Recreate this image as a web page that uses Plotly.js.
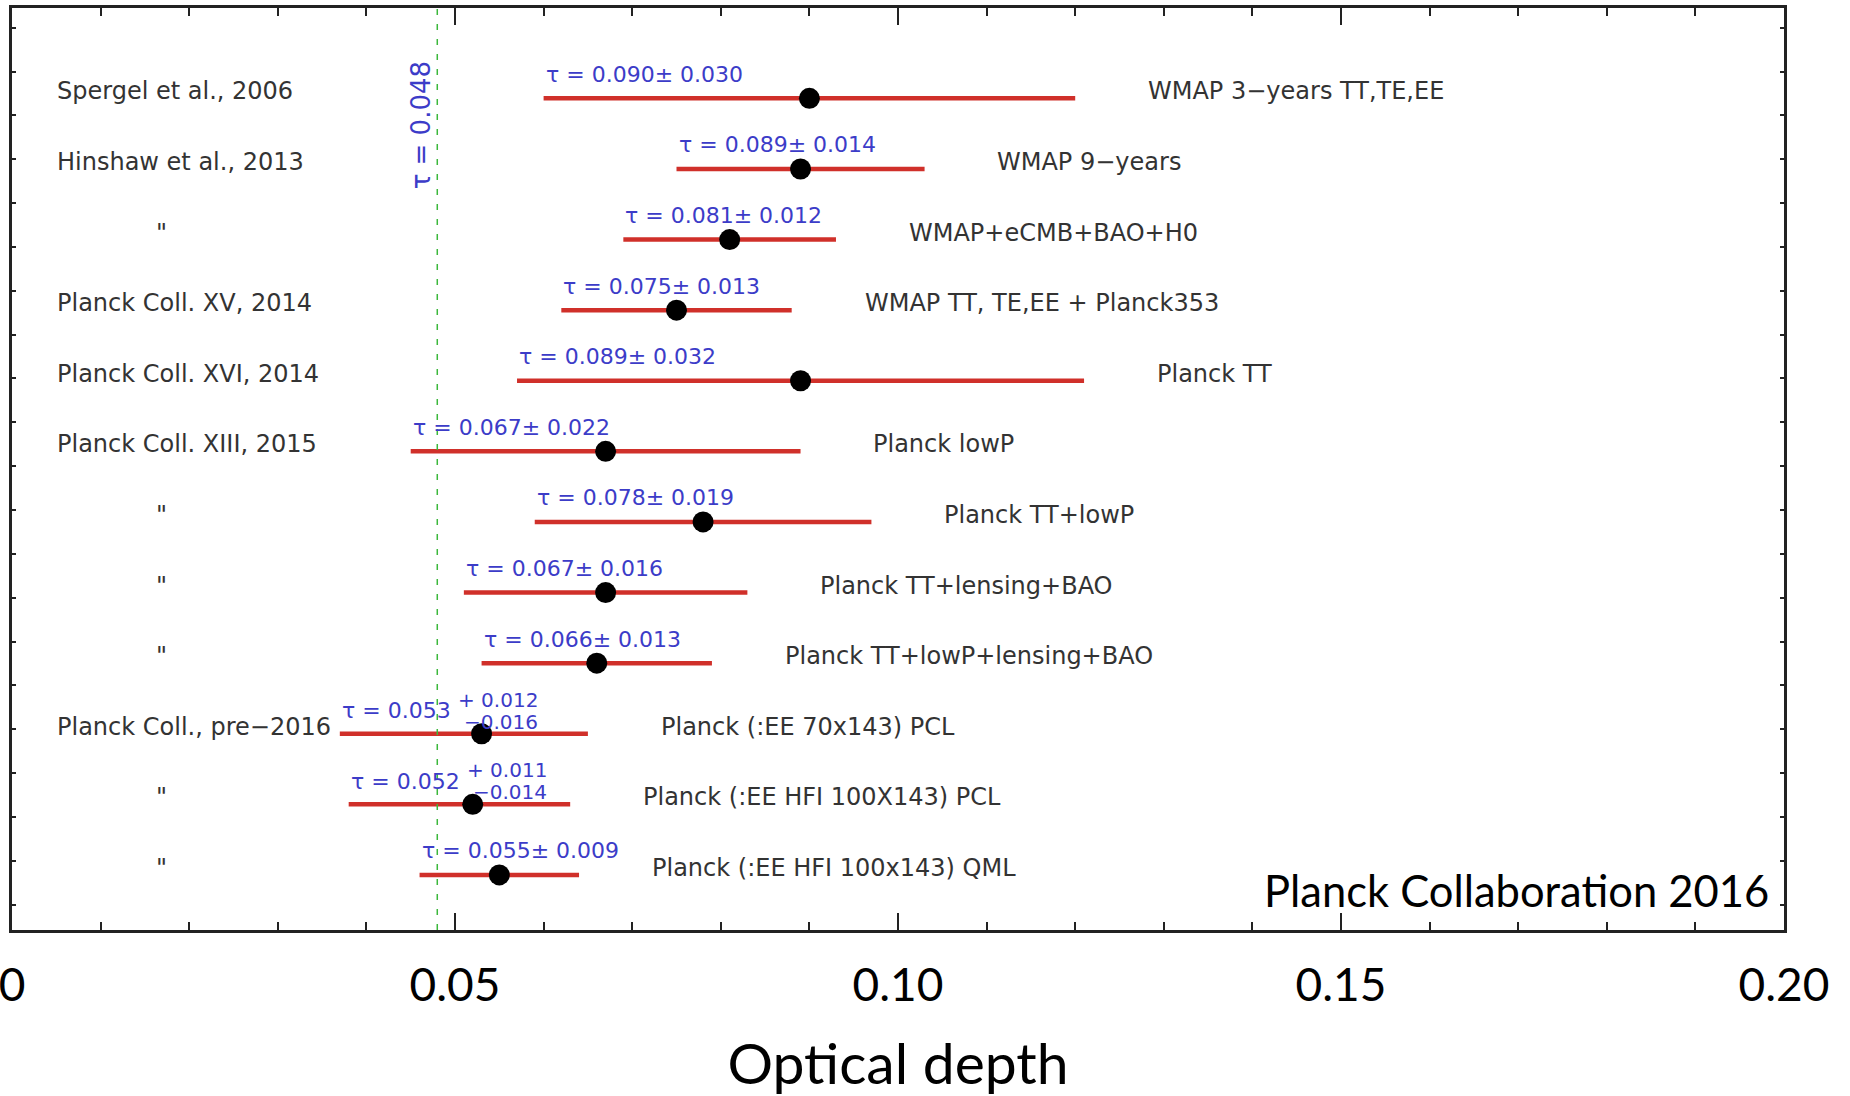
<!DOCTYPE html>
<html>
<head>
<meta charset="utf-8">
<script src="https://cdn.plot.ly/plotly-3.0.1.min.js"></script>
<style>html,body{margin:0;padding:0;background:#fff;}</style>
</head>
<body>
<div id="chart" style="width:1850px;height:1096px;"></div>
<script>
// ---- data ----
const references = ["Spergel et al., 2006", "Hinshaw et al., 2013", "\"", "Planck Coll. XV, 2014",
  "Planck Coll. XVI, 2014", "Planck Coll. XIII, 2015", "\"", "\"", "\"",
  "Planck Coll., pre\u22122016", "\"", "\""];
const datasets = ["WMAP 3\u2212years TT,TE,EE", "WMAP 9\u2212years", "WMAP+eCMB+BAO+H0",
  "WMAP TT, TE,EE + Planck353", "Planck TT", "Planck lowP", "Planck TT+lowP",
  "Planck TT+lensing+BAO", "Planck TT+lowP+lensing+BAO", "Planck (:EE 70x143) PCL",
  "Planck (:EE HFI 100X143) PCL", "Planck (:EE HFI 100x143) QML"];
const tau = [0.090, 0.089, 0.081, 0.075, 0.089, 0.067, 0.078, 0.067, 0.066, 0.053, 0.052, 0.055];
const errPlus = [0.030, 0.014, 0.012, 0.013, 0.032, 0.022, 0.019, 0.016, 0.013, 0.012, 0.011, 0.009];
const errMinus = [0.030, 0.014, 0.012, 0.013, 0.032, 0.022, 0.019, 0.016, 0.013, 0.016, 0.014, 0.009];
const tauRef = 0.048;
const xTickVals = [0, 0.05, 0.10, 0.15, 0.20];
const xTickText = ["0", "0.05", "0.10", "0.15", "0.20"];
const xTitle = "Optical depth";
const credit = "Planck Collaboration 2016";

// ---- drawing ----
const rowPos = tau.map((_, i) => i + 1);
const BLUE = '#3c3cc8';
const DARK = '#333333';
const LABEL_FONT = 'DejaVu Sans';

const trace = {
  type: 'scatter', mode: 'markers',
  x: tau, y: rowPos,
  marker: {size: 21, color: '#000'},
  error_x: {type: 'data', symmetric: false, array: errPlus, arrayminus: errMinus,
            color: '#d0302a', thickness: 4.5, width: 0},
  showlegend: false, hoverinfo: 'skip'
};

const annotations = [];
for (let i = 0; i < tau.length; i++) {
  const lo = tau[i] - errMinus[i];
  const hi = tau[i] + errPlus[i];
  const isDitto = references[i] === "\"";
  annotations.push({
    xref: 'paper', yref: 'y', x: isDitto ? 0.0846 : 0.0243, y: rowPos[i], yshift: 7,
    xanchor: isDitto ? 'center' : 'left', yanchor: 'middle', showarrow: false,
    text: references[i], font: {family: LABEL_FONT, size: 24, color: DARK}
  });
  annotations.push({
    xref: 'x', yref: 'y', x: hi + 0.008, y: rowPos[i], yshift: 7,
    xanchor: 'left', yanchor: 'middle', showarrow: false,
    text: datasets[i], font: {family: LABEL_FONT, size: 24, color: DARK}
  });
  if (errPlus[i] === errMinus[i]) {
    annotations.push({
      xref: 'x', yref: 'y', x: lo, y: rowPos[i], yshift: 24,
      xanchor: 'left', yanchor: 'middle', showarrow: false,
      text: '\u03c4 = ' + tau[i].toFixed(3) + '\u00b1 ' + errPlus[i].toFixed(3),
      font: {family: LABEL_FONT, size: 22, color: BLUE}
    });
  } else {
    annotations.push({
      xref: 'x', yref: 'y', x: lo, y: rowPos[i], yshift: 23,
      xanchor: 'left', yanchor: 'middle', showarrow: false,
      text: '\u03c4 = ' + tau[i].toFixed(3),
      font: {family: LABEL_FONT, size: 22, color: BLUE}
    });
    annotations.push({
      xref: 'x', yref: 'y', x: lo, xshift: 200, y: rowPos[i], yshift: 34,
      xanchor: 'right', yanchor: 'middle', showarrow: false,
      text: '+ ' + errPlus[i].toFixed(3),
      font: {family: LABEL_FONT, size: 20, color: BLUE}
    });
    annotations.push({
      xref: 'x', yref: 'y', x: lo, xshift: 200, y: rowPos[i], yshift: 12,
      xanchor: 'right', yanchor: 'middle', showarrow: false,
      text: '\u2212' + errMinus[i].toFixed(3),
      font: {family: LABEL_FONT, size: 20, color: BLUE}
    });
  }
}
annotations.push({
  xref: 'x', yref: 'paper', x: tauRef, xshift: -16, y: 0.873,
  xanchor: 'center', yanchor: 'middle', showarrow: false, textangle: -90,
  text: '\u03c4 = ' + tauRef.toFixed(3), font: {family: LABEL_FONT, size: 26, color: BLUE}
});
annotations.push({
  xref: 'paper', yref: 'paper', x: 0.9926, y: 0.043,
  xanchor: 'right', yanchor: 'middle', showarrow: false,
  text: credit, font: {family: 'Lato', size: 43.5, color: '#000'}
});

const layout = {
  width: 1850, height: 1096,
  margin: {l: 12, r: 66, t: 8, b: 166},
  paper_bgcolor: '#fff', plot_bgcolor: '#fff',
  font: {family: LABEL_FONT},
  showlegend: false,
  xaxis: {
    range: [0, 0.2], tickmode: 'array', tickvals: xTickVals, ticktext: xTickText,
    ticks: 'inside', ticklen: 17, tickwidth: 2, tickcolor: '#222',
    minor: {tickmode: 'linear', tick0: 0, dtick: 0.01, ticks: 'inside', ticklen: 8, tickwidth: 2, tickcolor: '#222'},
    mirror: 'allticks', showline: true, linewidth: 3, linecolor: '#222',
    showgrid: false, zeroline: false,
    tickfont: {family: 'Lato', size: 46, color: '#000'},
    ticklabelstandoff: 13, ticklabeloverflow: 'allow',
    title: {text: xTitle, font: {family: 'Lato', size: 57, color: '#000'}, standoff: 37}
  },
  yaxis: {
    range: [12.78, -0.28], showticklabels: false,
    tickmode: 'linear', tick0: 0, dtick: 0.621,
    ticks: 'inside', ticklen: 4, tickwidth: 2, tickcolor: '#222',
    mirror: 'allticks', showline: true, linewidth: 3, linecolor: '#222',
    showgrid: false, zeroline: false
  },
  shapes: [{
    type: 'line', xref: 'x', yref: 'paper', x0: tauRef, x1: tauRef, y0: 0, y1: 1,
    line: {color: '#3cb83c', width: 1.5, dash: '6px,9px'}
  }],
  annotations: annotations
};

Plotly.newPlot('chart', [trace], layout, {staticPlot: true, displayModeBar: false});
</script>
</body>
</html>
